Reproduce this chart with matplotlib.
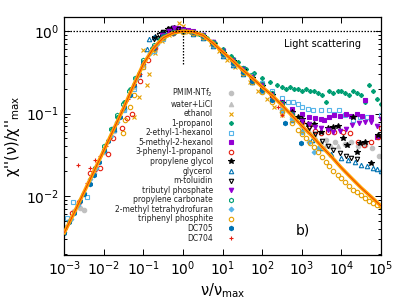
import numpy as np
import matplotlib
matplotlib.use('Agg')
import matplotlib.pyplot as plt

plt.rcParams['font.family'] = ['DejaVu Sans']
plt.rcParams['mathtext.fontset'] = 'dejavusans'

##### Data (x = nu/nu_max, y = chi''/chi''_max)
master_x = [1e-3, 1.78e-3, 3.16e-3, 5.62e-3, 1e-2, 1.78e-2, 3.16e-2, 5.62e-2, 0.1, 0.178, 0.316, 0.562,
            1, 1.78, 3.16, 5.62, 10, 17.8, 31.6, 56.2, 100, 178, 316, 562, 1e3, 1.78e3, 3.16e3, 5.62e3,
            1e4, 1.78e4, 3.16e4, 5.62e4, 1e5]
master_y = [0.0036, 0.0063, 0.0112, 0.020, 0.036, 0.065, 0.117, 0.22, 0.40, 0.62, 0.83, 0.95,
            1.0, 0.98, 0.89, 0.72, 0.56, 0.44, 0.34, 0.27, 0.21, 0.166, 0.126, 0.095, 0.071, 0.054, 0.040, 0.030,
            0.022, 0.0166, 0.0126, 0.0098, 0.0076]

pmim_x = [1e-3, 1.3e-3, 1.8e-3, 2.5e-3, 3.2e-3, 5.6e-3, 1e-2, 1.8e-2, 3.2e-2, 5.6e-2, 0.1, 0.18, 0.32, 0.56,
          1, 1.8, 3.2, 5.6, 10, 18, 32, 56, 100, 180, 320, 560, 1000, 2000, 4000, 7000, 1.2e4, 1.8e4, 2.6e4,
          4e4, 6e4, 9e4]
pmim_y = [0.0042, 0.005, 0.0065, 0.0072, 0.0068, 0.019, 0.034, 0.062, 0.11, 0.21, 0.39, 0.6, 0.82, 0.96,
          1.0, 0.97, 0.88, 0.71, 0.55, 0.43, 0.33, 0.26, 0.2, 0.16, 0.12, 0.092, 0.07, 0.055, 0.048, 0.045,
          0.043, 0.045, 0.04, 0.042, 0.038, 0.031]

licl_x = [3e-3, 5.6e-3, 1e-2, 1.8e-2, 3.2e-2, 0.1, 0.32, 1, 3.2, 10, 32, 100, 320, 1000, 1500, 2200, 3000,
          4000, 5500, 8000]
licl_y = [0.011, 0.02, 0.035, 0.063, 0.115, 0.4, 0.83, 1.0, 0.89, 0.56, 0.34, 0.21, 0.125, 0.075, 0.062,
          0.052, 0.045, 0.042, 0.04, 0.041]

ethanol_x = [0.056, 0.075, 0.1, 0.12, 0.135, 0.2, 0.3, 0.45, 0.65, 0.8, 1, 1.3, 2, 3.2, 5, 8, 13, 20, 32,
             50, 80, 130, 200, 320]
ethanol_y = [0.091, 0.16, 0.59, 0.22, 0.3, 0.55, 0.75, 0.9, 1.05, 1.25, 1.15, 0.98, 0.93, 0.85, 0.7, 0.58,
             0.45, 0.37, 0.3, 0.24, 0.19, 0.15, 0.12, 0.095]

propanol_x = [0.016, 0.022, 0.032, 0.045, 0.063, 0.1, 0.16, 0.25, 0.4, 0.63, 1, 1.6, 2.5, 4, 6.3, 10, 16,
              25, 40, 63, 100, 160, 230, 320, 400, 500, 630, 800, 1000, 1260, 1600, 2000, 2500, 3200, 4000,
              5000, 6300, 8000, 1e4, 1.26e4, 1.6e4, 2e4, 2.5e4, 3.2e4, 4e4, 5e4, 6.3e4, 8e4, 1e5]
propanol_y = [0.065, 0.09, 0.14, 0.2, 0.27, 0.42, 0.62, 0.8, 0.92, 0.98, 1.0, 0.98, 0.93, 0.83, 0.72, 0.6,
              0.5, 0.42, 0.35, 0.31, 0.27, 0.24, 0.22, 0.21, 0.2, 0.21, 0.2, 0.2, 0.19, 0.2, 0.19, 0.19, 0.18,
              0.17, 0.14, 0.19, 0.18, 0.19, 0.19, 0.18, 0.17, 0.19, 0.18, 0.17, 0.14, 0.22, 0.19, 0.15, 0.13]

ehex_x = [1.2e-3, 1.7e-3, 3.8e-3, 1e-2, 1.8e-2, 3.2e-2, 5.6e-2, 0.1, 0.18, 0.32, 0.56, 1, 1.8, 3.2, 5.6, 10,
          18, 32, 56, 100, 180, 320, 450, 600, 800, 1000, 1400, 1900, 3000, 4800, 6500, 8500, 1.2e4, 2e4,
          3e4, 4.5e4, 1e5]
ehex_y = [0.0054, 0.0085, 0.0098, 0.035, 0.063, 0.11, 0.2, 0.37, 0.58, 0.8, 0.95, 1.0, 0.97, 0.88, 0.72,
          0.56, 0.45, 0.36, 0.29, 0.235, 0.19, 0.155, 0.14, 0.14, 0.13, 0.12, 0.115, 0.11, 0.11, 0.11, 0.1,
          0.11, 0.095, 0.083, 0.09, 0.091, 0.096]

mhex_x = [0.18, 0.32, 0.45, 0.56, 0.75, 1, 1.33, 1.8, 3.2, 5.6, 10, 18, 32, 56, 100, 180, 320, 560, 1000,
          1500, 2200, 3000, 3700, 5000, 6500, 9000, 1.3e4, 1.8e4, 2.5e4, 3.3e4, 4e4, 5.6e4, 8e4]
mhex_y = [0.65, 0.88, 1.0, 1.08, 1.1, 1.05, 1.03, 1.0, 0.9, 0.73, 0.57, 0.45, 0.35, 0.28, 0.22, 0.175,
          0.14, 0.115, 0.1, 0.092, 0.088, 0.085, 0.083, 0.09, 0.096, 0.094, 0.1, 0.093, 0.1, 0.094, 0.145,
          0.09, 0.052]

phprop_x = [1.6e-3, 2.3e-3, 4.5e-3, 6e-3, 8e-3, 1.25e-2, 1.74e-2, 2.9e-2, 3.9e-2, 5e-2, 8.3e-2, 0.13, 0.2,
            0.32, 0.56, 1, 1.8, 3.2, 5.6, 10, 18, 32, 56, 100, 180, 320, 560, 1000, 1500, 2200, 3000, 4500,
            6500, 1.07e4, 1.7e4, 2.7e4, 3.8e4, 5.5e4, 8.3e4, 1e5]
phprop_y = [0.0063, 0.0085, 0.019, 0.021, 0.022, 0.032, 0.05, 0.066, 0.089, 0.1, 0.25, 0.45, 0.62, 0.84,
            0.96, 1.0, 0.97, 0.87, 0.7, 0.55, 0.43, 0.34, 0.27, 0.22, 0.17, 0.135, 0.1, 0.08, 0.07, 0.062,
            0.058, 0.06, 0.06, 0.06, 0.058, 0.045, 0.042, 0.045, 0.052, 0.066]

pg_x = [0.2, 0.3, 0.42, 0.6, 1, 1.8, 3.2, 5.6, 10, 18, 32, 56, 100, 180, 320, 560, 800, 1000, 1400, 2000,
        3000, 4500, 6000, 8000, 1.1e4, 1.4e4, 2e4, 2.5e4, 3e4, 4e4, 5.5e4, 8.3e4]
pg_y = [0.85, 0.95, 1.05, 1.1, 1.02, 0.96, 0.87, 0.7, 0.55, 0.43, 0.34, 0.27, 0.215, 0.17, 0.135, 0.105,
        0.09, 0.085, 0.075, 0.075, 0.06, 0.066, 0.069, 0.07, 0.05, 0.042, 0.09, 0.034, 0.044, 0.045, 0.025,
        0.055]

glyc_x = [0.01, 0.018, 0.032, 0.056, 0.075, 0.1, 0.125, 0.14, 0.18, 0.32, 0.56, 1, 1.8, 3.2, 5.6, 10, 18,
          32, 56, 100, 180, 320, 560, 1000, 1800, 3200, 5600, 1e4, 1.5e4, 2.2e4, 3.2e4, 4.5e4, 6.3e4, 8e4,
          1e5]
glyc_y = [0.036, 0.065, 0.12, 0.23, 0.3, 0.42, 0.6, 0.8, 0.85, 0.97, 1.05, 1.0, 0.93, 0.83, 0.66, 0.5,
          0.39, 0.3, 0.24, 0.19, 0.15, 0.11, 0.084, 0.062, 0.048, 0.038, 0.032, 0.029, 0.027, 0.026, 0.024,
          0.023, 0.022, 0.021, 0.02]

mtol_x = [0.18, 0.25, 0.32, 0.45, 0.56, 0.75, 1, 1.8, 3.2, 5.6, 10, 18, 32, 56, 100, 180, 320, 560, 1000,
          1500, 2200, 3200, 4500, 6300, 9000, 1.3e4, 1.8e4, 2.5e4]
mtol_y = [0.8, 0.9, 0.98, 1.05, 1.08, 1.06, 1.02, 0.95, 0.85, 0.68, 0.52, 0.41, 0.32, 0.26, 0.21, 0.165,
          0.13, 0.1, 0.08, 0.066, 0.056, 0.047, 0.04, 0.036, 0.033, 0.031, 0.029, 0.028]

tbp_x = [0.3, 0.45, 0.6, 1, 1.8, 3.2, 5.6, 10, 18, 32, 56, 100, 180, 320, 560, 1000, 1500, 2200, 3000,
         4500, 6300, 9000, 1.3e4, 1.9e4, 2.8e4, 4e4, 5.6e4, 8e4, 1e5]
tbp_y = [0.9, 1.0, 1.1, 1.03, 0.98, 0.9, 0.73, 0.57, 0.45, 0.35, 0.28, 0.22, 0.17, 0.13, 0.1, 0.082,
         0.074, 0.068, 0.066, 0.063, 0.06, 0.062, 0.065, 0.072, 0.077, 0.08, 0.079, 0.07, 0.085]

pc_x = [6e-3, 1e-2, 1.5e-2, 2.2e-2, 3e-2, 4.2e-2, 6e-2, 0.1, 0.18, 0.32, 0.56, 1, 1.8, 3.2, 5.6, 10, 18,
        32, 56, 100, 180, 320, 560]
pc_y = [0.022, 0.04, 0.065, 0.095, 0.13, 0.19, 0.27, 0.45, 0.68, 0.87, 0.97, 1.0, 0.98, 0.9, 0.74, 0.58,
        0.46, 0.36, 0.29, 0.23, 0.18, 0.135, 0.1]

mthf_x = [1e-3, 1.5e-3, 2.2e-3, 3.2e-3, 4.5e-3, 6.3e-3, 1e-2, 1.5e-2, 2.2e-2, 3.2e-2, 4.5e-2, 6.3e-2, 0.1,
          0.15, 0.22, 0.32, 0.56, 1, 1.8, 3.2, 5.6, 10, 18, 32, 56, 100, 180, 320, 560, 1000, 1500, 2000,
          2500]
mthf_y = [0.0037, 0.0052, 0.0077, 0.011, 0.016, 0.022, 0.035, 0.054, 0.08, 0.115, 0.17, 0.26, 0.4, 0.55,
          0.7, 0.82, 0.95, 1.0, 0.96, 0.86, 0.68, 0.52, 0.4, 0.31, 0.24, 0.19, 0.15, 0.11, 0.085, 0.06,
          0.045, 0.034, 0.038]

tpp_x = [0.03, 0.035, 0.045, 0.056, 0.1, 0.18, 0.32, 0.56, 1, 1.8, 3.2, 5.6, 10, 18, 32, 56, 100, 180,
         320, 560, 800, 1000, 1300, 1600, 2000, 2500, 3200, 4000, 5000, 6300, 8000, 1e4, 1.26e4, 1.6e4,
         2e4, 2.5e4, 3.2e4, 4e4, 5e4, 6.3e4, 8e4, 1e5]
tpp_y = [0.058, 0.083, 0.12, 0.17, 0.37, 0.6, 0.82, 0.94, 0.98, 0.95, 0.86, 0.69, 0.53, 0.41, 0.31, 0.24,
         0.185, 0.14, 0.105, 0.077, 0.064, 0.057, 0.05, 0.044, 0.039, 0.034, 0.03, 0.026, 0.023, 0.02,
         0.018, 0.0165, 0.0148, 0.0133, 0.012, 0.0112, 0.0103, 0.0095, 0.0088, 0.0083, 0.0078, 0.0075]

dc705_x = [1e-3, 1.3e-3, 1.8e-3, 2.5e-3, 3.2e-3, 4.5e-3, 5.6e-3, 7.5e-3, 1e-2, 1.3e-2, 1.8e-2, 2.5e-2,
           3.2e-2, 4.5e-2, 5.6e-2, 0.075, 0.1, 0.18, 0.32, 0.56, 1, 1.8, 3.2, 5.6, 10, 18, 32, 56, 100, 180,
           380, 930]
dc705_y = [0.0036, 0.0048, 0.0063, 0.0088, 0.0105, 0.014, 0.018, 0.026, 0.036, 0.047, 0.066, 0.09, 0.12,
           0.17, 0.22, 0.3, 0.41, 0.63, 0.84, 0.96, 1.0, 0.97, 0.87, 0.69, 0.53, 0.41, 0.32, 0.25, 0.195,
           0.145, 0.076, 0.044]

dc704_x = [2.2e-3, 3.7e-3, 4.5e-3, 6e-3, 8e-3, 1.1e-2, 1.4e-2, 2e-2, 2.8e-2, 4e-2, 5.6e-2, 0.08, 0.1,
           0.18, 0.32, 0.56, 1, 1.8, 3.2, 5.6, 10, 18, 32, 56, 100, 180, 250, 320]
dc704_y = [0.024, 0.0145, 0.022, 0.027, 0.031, 0.04, 0.05, 0.075, 0.11, 0.15, 0.22, 0.3, 0.4, 0.62, 0.84,
           0.96, 1.0, 0.98, 0.89, 0.72, 0.56, 0.44, 0.34, 0.27, 0.21, 0.16, 0.12, 0.096]

# label, x, y, marker, color, filled
series = [
    ('PMIM-NTf$_2$', pmim_x, pmim_y, 'o', '#c0c0c0', True),
    ('water+LiCl', licl_x, licl_y, '^', '#c0c0c0', True),
    ('ethanol', ethanol_x, ethanol_y, 'x', '#e69f00', True),
    ('1-propanol', propanol_x, propanol_y, (8, 2, 0), '#009e73', True),
    ('2-ethyl-1-hexanol', ehex_x, ehex_y, 's', '#56b4e9', False),
    ('5-methyl-2-hexanol', mhex_x, mhex_y, 's', '#9400d3', True),
    ('3-phenyl-1-propanol', phprop_x, phprop_y, 'o', '#e51e10', False),
    ('propylene glycol', pg_x, pg_y, '*', 'black', True),
    ('glycerol', glyc_x, glyc_y, '^', '#0072b2', False),
    ('m-toluidin', mtol_x, mtol_y, 'v', 'black', False),
    ('tributyl phosphate', tbp_x, tbp_y, 'v', '#9400d3', True),
    ('propylene carbonate', pc_x, pc_y, 'h', '#009e73', False),
    ('2-methyl tetrahydrofuran', mthf_x, mthf_y, 'D', '#56b4e9', True),
    ('triphenyl phosphite', tpp_x, tpp_y, 'o', '#e69f00', False),
    ('DC705', dc705_x, dc705_y, 'h', '#0072b2', True),
    ('DC704', dc704_x, dc704_y, '+', '#e51e10', True),
]

fig = plt.figure(figsize=(4.07, 3.05), dpi=100)
ax = fig.add_axes([0.158, 0.164, 0.778, 0.780])

for label, xs, ys, mk, col, filled in series:
    ms = 3.2
    if mk == 'D':
        ms = 2.4
    if mk == '*':
        ms = 4.0
    ax.plot(xs, ys, linestyle='none', marker=mk, ms=ms, mew=0.8,
            mec=col, mfc=col if filled else 'none', label=label)

# master curve
ax.plot(master_x, master_y, color='#ffa500', lw=2.6, zorder=5)
ax.plot(master_x, master_y, color='#e51e10', lw=0.5, zorder=6)

# guide lines
ax.axhline(1.0, color='black', lw=0.9, ls=(0, (1.2, 1.2)), zorder=7)
ax.plot([1, 1], [0.4, 1.0], color='black', lw=0.9, ls=(0, (1.2, 1.2)), zorder=7)

ax.set_xscale('log')
ax.set_yscale('log')
ax.set_xlim(1e-3, 1e5)
ax.set_ylim(1.93e-3, 1.48)
ax.set_xticks([10.0 ** k for k in range(-3, 6)])
ax.set_yticks([1e-2, 1e-1, 1])

ax.tick_params(which='both', direction='in', top=True, right=True, labelsize=10, width=0.7)
ax.tick_params(which='major', length=4)
ax.tick_params(which='minor', length=2)
for sp in ax.spines.values():
    sp.set_linewidth(0.9)

ax.set_xlabel(r'$\mathrm{\nu/\nu_{max}}$', fontsize=10.5, labelpad=2)
ax.set_ylabel("χ''(ν)/χ''$_\\mathrm{max}$", fontsize=10.5, labelpad=3)

ax.text(0.815, 0.887, 'Light scattering', transform=ax.transAxes, fontsize=7, ha='center', va='center')
ax.text(0.755, 0.105, 'b)', transform=ax.transAxes, fontsize=10, ha='center', va='center')

leg = ax.legend(loc='upper right', bbox_to_anchor=(0.537, 0.708), frameon=False, fontsize=5.5,
                markerfirst=False, handlelength=1.0, handletextpad=1.8, labelspacing=0.075,
                borderpad=0, borderaxespad=0)
for t in leg.get_texts():
    t.set_color('#222222')
leg.set_zorder(8)

fig.savefig('out.png', dpi=100)
